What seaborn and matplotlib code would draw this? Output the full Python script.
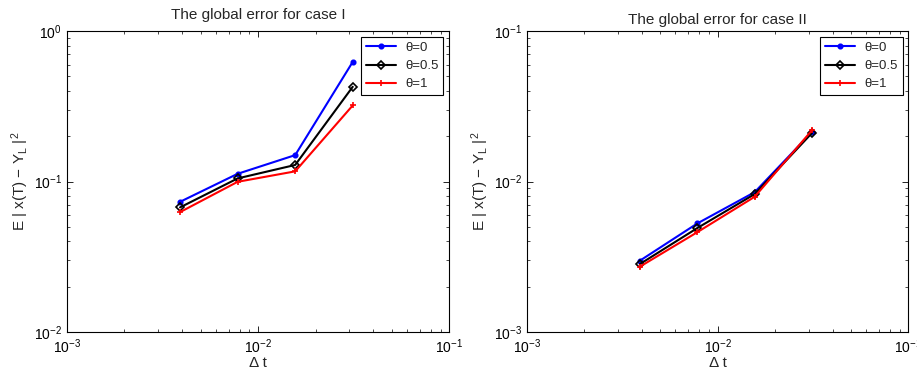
import numpy as np
import pandas as pd
import matplotlib
matplotlib.use("Agg")
import matplotlib.pyplot as plt
import seaborn as sns
from matplotlib.ticker import LogLocator, NullFormatter

sns.set_style("white")
plt.rcParams['font.family'] = ['Liberation Sans', 'DejaVu Sans']
plt.rcParams['mathtext.fontset'] = 'custom'
plt.rcParams['mathtext.rm'] = 'Liberation Sans'
plt.rcParams['mathtext.it'] = 'Liberation Sans'

dt = [1/256, 1/128, 1/64, 1/32]
labels = ['θ=0', 'θ=0.5', 'θ=1']

case1_theta0 = [0.0734, 0.1127, 0.150, 0.625]
case1_theta05 = [0.0674, 0.105, 0.129, 0.427]
case1_theta1 = [0.0627, 0.0997, 0.117, 0.321]

case2_theta0 = [0.00298, 0.00527, 0.00851, 0.0214]
case2_theta05 = [0.00283, 0.00491, 0.00826, 0.0211]
case2_theta1 = [0.00272, 0.00461, 0.00793, 0.0220]

titles = ['The global error for case I', 'The global error for case II']
title_pads = [9, 5]
ylims = [(1e-2, 1e0), (1e-3, 1e-1)]

colors = ['#0000ff', '#000000', '#ff0000']
markers = ['o', 'D', '+']
msizes = [3.2, 3.8, 4.5]
mfaces = ['#0000ff', 'none', '#ff0000']

fig = plt.figure(figsize=(9.17, 3.71), dpi=100)
ax1 = fig.add_axes([0.073, 0.105, 0.417, 0.811])
ax2 = fig.add_axes([0.5747, 0.105, 0.416, 0.811])

for ax, series, title, tp, yl in zip([ax1, ax2],
                                     [[case1_theta0, case1_theta05, case1_theta1],
                                      [case2_theta0, case2_theta05, case2_theta1]],
                                     titles, title_pads, ylims):
    for vals, lab, c, m, ms, mf in zip(series, labels, colors, markers, msizes, mfaces):
        df = pd.DataFrame({'dt': dt, 'err': vals})
        sns.lineplot(data=df, x='dt', y='err', ax=ax, color=c, marker=m,
                     markersize=ms, markerfacecolor=mf, markeredgecolor=c,
                     markeredgewidth=1.2, linewidth=1.5, label=lab)
    ax.set_xscale('log')
    ax.set_yscale('log')
    ax.set_xlim(1e-3, 1e-1)
    ax.set_ylim(*yl)
    ax.set_title(title, fontsize=11, pad=tp)
    ax.set_xlabel('Δ t', fontsize=11, labelpad=0)
    ax.set_ylabel(r'E | x(T) $-$ Y$_{\mathrm{L}}$ |$^{2}$', fontsize=11, labelpad=2)
    ax.xaxis.set_major_locator(LogLocator(base=10, numticks=10))
    ax.yaxis.set_major_locator(LogLocator(base=10, numticks=10))
    ax.xaxis.set_minor_locator(LogLocator(base=10, subs=np.arange(2, 10), numticks=20))
    ax.yaxis.set_minor_locator(LogLocator(base=10, subs=np.arange(2, 10), numticks=20))
    ax.xaxis.set_minor_formatter(NullFormatter())
    ax.yaxis.set_minor_formatter(NullFormatter())
    ax.tick_params(which='both', direction='in', top=True, right=True,
                   bottom=True, left=True, colors='black', labelsize=10)
    ax.tick_params(axis='x', which='major', pad=4)
    ax.tick_params(which='major', length=4, width=0.6)
    ax.tick_params(which='minor', length=2, width=0.5)
    for s in ax.spines.values():
        s.set_color('black')
        s.set_linewidth(0.8)
    leg = ax.legend(loc='upper right', fontsize=9.5, frameon=True, fancybox=False,
                    edgecolor='black', framealpha=1, borderpad=0.35,
                    handlelength=2.3, handletextpad=0.7, labelspacing=0.45,
                    borderaxespad=0.45)
    leg.get_frame().set_linewidth(0.8)

fig.savefig('out.png', dpi=100)
